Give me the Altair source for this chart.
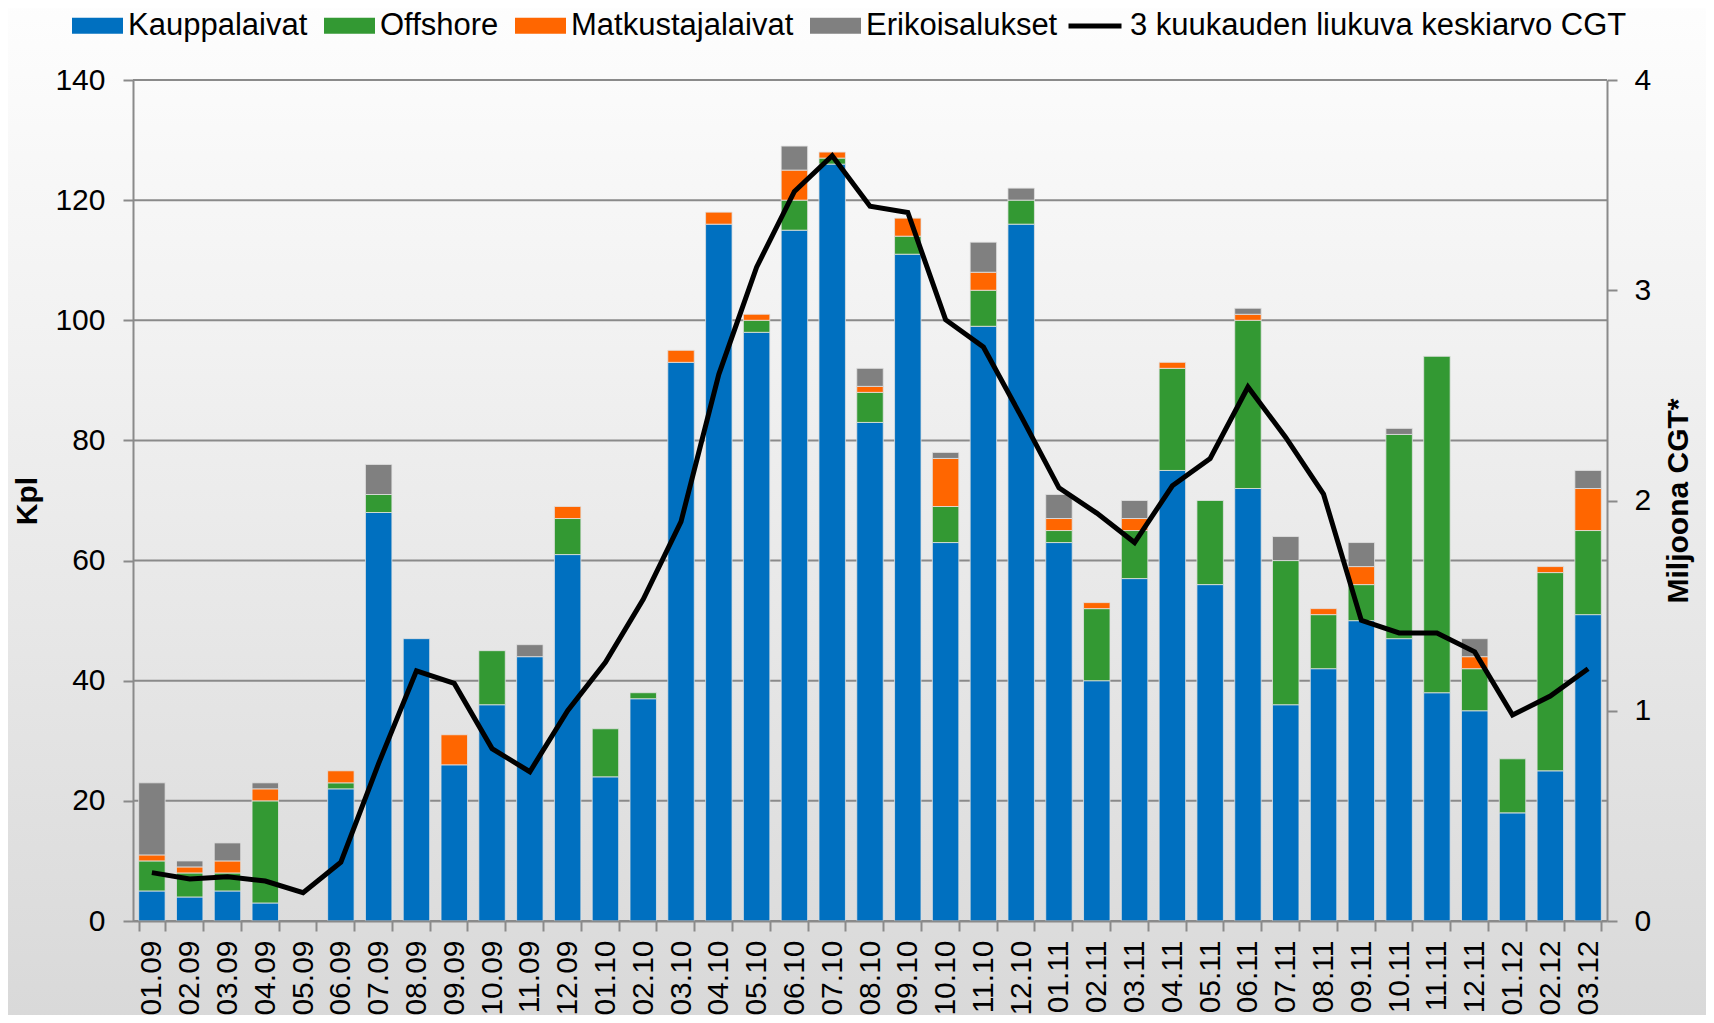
import altair as alt
import pandas as pd

months = ["01.09", "02.09", "03.09", "04.09", "05.09", "06.09", "07.09", "08.09", "09.09", "10.09", "11.09", "12.09",
          "01.10", "02.10", "03.10", "04.10", "05.10", "06.10", "07.10", "08.10", "09.10", "10.10", "11.10", "12.10",
          "01.11", "02.11", "03.11", "04.11", "05.11", "06.11", "07.11", "08.11", "09.11", "10.11", "11.11", "12.11",
          "01.12", "02.12", "03.12"]

kauppa = [5, 4, 5, 3, 0, 22, 68, 47, 26, 36, 44, 61,
          24, 37, 93, 116, 98, 115, 126, 83, 111, 63, 99, 116,
          63, 40, 57, 75, 56, 72, 36, 42, 50, 47, 38, 35,
          18, 25, 51]
offshore = [5, 4, 3, 17, 0, 1, 3, 0, 0, 9, 0, 6,
            8, 1, 0, 0, 2, 5, 1, 5, 3, 6, 6, 4,
            2, 12, 8, 17, 14, 28, 24, 9, 6, 34, 56, 7,
            9, 33, 14]
matkustaja = [1, 1, 2, 2, 0, 2, 0, 0, 5, 0, 0, 2,
              0, 0, 2, 2, 1, 5, 1, 1, 3, 8, 3, 0,
              2, 1, 2, 1, 0, 1, 0, 1, 3, 0, 0, 2,
              0, 1, 7]
erikois = [12, 1, 3, 1, 0, 0, 5, 0, 0, 0, 2, 0,
           0, 0, 0, 0, 0, 4, 0, 3, 0, 1, 5, 2,
           4, 0, 3, 0, 0, 1, 4, 0, 4, 1, 0, 3,
           0, 0, 3]
cgt = [0.23, 0.20, 0.21, 0.19, 0.135, 0.28, 0.75, 1.19, 1.13, 0.82, 0.71, 1.00,
       1.23, 1.53, 1.90, 2.60, 3.11, 3.47, 3.64, 3.40, 3.37, 2.86, 2.73, 2.40,
       2.06, 1.94, 1.80, 2.07, 2.20, 2.54, 2.30, 2.03, 1.43, 1.37, 1.37, 1.28,
       0.98, 1.07, 1.20]

cats = ["Kauppalaivat", "Offshore", "Matkustajalaivat", "Erikoisalukset"]
colors = ["#0070C0", "#339933", "#FF6600", "#808080"]
line_name = "3 kuukauden liukuva keskiarvo CGT"
y_ticks = [0, 20, 40, 60, 80, 100, 120, 140]
y2_ticks = [0, 1, 2, 3, 4]

rows = []
for i, m in enumerate(months):
    for j, vals in enumerate([kauppa, offshore, matkustaja, erikois]):
        if vals[i] > 0:
            rows.append({"kk": m, "tyyppi": cats[j], "kpl": vals[i], "jarj": j})
bars_df = pd.DataFrame(rows)
line_df = pd.DataFrame({"kk": months, "cgt": cgt, "sarja": line_name})
grid_df = pd.DataFrame({"v": y_ticks})

FONT = "Liberation Sans"
W, H = 1474, 841
GRAY = "#8a8a8a"

def x_enc():
    return alt.X("kk:N",
                 scale=alt.Scale(domain=months, paddingInner=0.3, paddingOuter=0.15),
                 axis=alt.Axis(title=None, labelAngle=270, labelPadding=9, tickSize=10,
                               tickBand="extent", labelOverlap=False, grid=False,
                               labelFontSize=30, zindex=1))

bg = alt.Chart(alt.Data(values=[{"a": 1}])).mark_rect(
    color=alt.Gradient(gradient="linear", x1=0, x2=0, y1=0, y2=1,
                       stops=[alt.GradientStop(offset=0, color="#fefefe"),
                              alt.GradientStop(offset=1, color="#d8d8d8")])
).encode(x=alt.value(-140), x2=alt.value(W + 140), y=alt.value(-90), y2=alt.value(H + 120))

grid = alt.Chart(grid_df).mark_rule(color=GRAY, strokeWidth=2).encode(
    y=alt.Y("v:Q", scale=alt.Scale(domain=[0, 140]), axis=None)
)

bars = alt.Chart(bars_df).mark_bar(stroke="#e2e2e2", strokeWidth=0.8).encode(
    x=x_enc(),
    y=alt.Y("kpl:Q", stack="zero", scale=alt.Scale(domain=[0, 140]),
            axis=alt.Axis(values=y_ticks, title="Kpl", grid=False, labelPadding=18, tickSize=10,
                          titleX=-106, titleY=H / 2, titleAngle=270, titleAlign="center",
                          titleBaseline="middle", labelFontSize=30, zindex=1)),
    color=alt.Color("tyyppi:N", scale=alt.Scale(domain=cats, range=colors),
                    legend=alt.Legend(title=None, orient="none", legendX=-61, legendY=-80,
                                      direction="horizontal", columns=4,
                                      symbolType="M-1,-0.31H1V0.31H-1Z", symbolSize=2601,
                                      symbolStrokeWidth=0, labelFontSize=31, labelOffset=5,
                                      columnPadding=16, padding=0, labelLimit=600)),
    order=alt.Order("jarj:Q"),
)

line = alt.Chart(line_df).mark_line(strokeWidth=5, strokeJoin="miter").encode(
    x=x_enc(),
    y=alt.Y("cgt:Q", scale=alt.Scale(domain=[0, 4]),
            axis=alt.Axis(orient="right", values=y2_ticks, title="Miljoona CGT*", grid=False,
                          labelPadding=17, tickSize=10, titleX=71, titleY=H / 2, titleAngle=270,
                          titleAlign="center", titleBaseline="middle", labelFontSize=30, zindex=1)),
    stroke=alt.Stroke("sarja:N", scale=alt.Scale(domain=[line_name], range=["#000000"]),
                      legend=alt.Legend(title=None, orient="none", legendX=933, legendY=-83,
                                        symbolType="stroke", symbolSize=2809, symbolStrokeWidth=5,
                                        symbolStrokeColor="#000000",
                                        labelFontSize=31, labelOffset=6, padding=0, labelLimit=900)),
)

chart = alt.layer(bg, grid, bars, line).resolve_scale(y="independent").properties(
    width=W, height=H,
    padding={"left": 125, "top": 72, "right": 99, "bottom": 94},
    autosize=alt.AutoSizeParams(type="none"),
).configure_view(stroke=None).configure_axis(
    labelFont=FONT, titleFont=FONT, labelColor="#000000", titleColor="#000000",
    domainColor=GRAY, tickColor=GRAY, gridColor=GRAY,
    domainWidth=2, tickWidth=2, gridWidth=2, titleFontSize=30, titleFontWeight="bold",
).configure_legend(labelFont=FONT, labelColor="#000000")

chart.save("out.html", embed_options={"renderer": "svg", "actions": False})
